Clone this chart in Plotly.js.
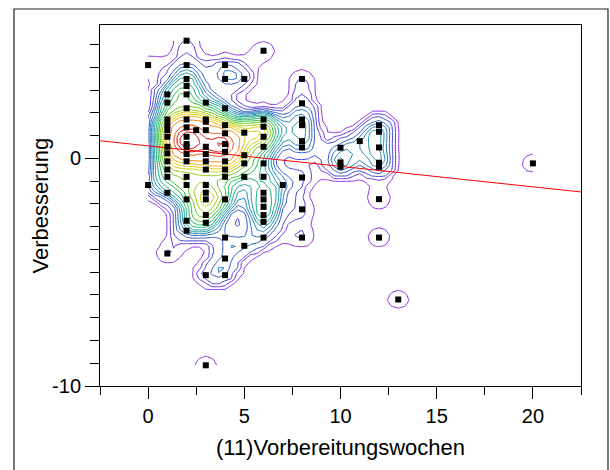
<!DOCTYPE html>
<html>
<head>
<meta charset="utf-8">
<script src="https://cdn.plot.ly/plotly-3.0.1.min.js"></script>
<style>
  html, body { margin: 0; padding: 0; background: #ffffff; }
  #chart { width: 610px; height: 470px; }
</style>
</head>
<body>
<div id="chart"></div>
<script>
// Observed (weeks, improvement) pairs and how many participants share each pair
const weeks = [
  0, 0,
  1, 1, 1, 1, 1, 1, 1, 1, 1, 1, 1, 1, 1,
  2, 2, 2, 2, 2, 2, 2, 2, 2, 2, 2, 2, 2, 2, 2, 2, 2, 2,
  2.5,
  3, 3, 3, 3, 3, 3, 3, 3, 3, 3, 3, 3, 3, 3, 3,
  4, 4, 4, 4, 4, 4, 4, 4, 4, 4, 4, 4, 4, 4,
  5, 5, 5, 5, 5, 5,
  6, 6, 6, 6, 6, 6, 6, 6, 6, 6, 6, 6, 6,
  7,
  8, 8, 8, 8, 8, 8, 8, 8, 8,
  10, 10, 10,
  11,
  12, 12, 12, 12, 12, 12, 12,
  13,
  20
];
const improvement = [
  4.10, -1.17,
  2.81, 2.45, 1.71, 1.46, 1.24, 0.95, 0.51, 0.22, -0.13, -0.49, -0.81, -1.51, -4.18,
  5.17, 4.10, 3.49, 3.18, 2.81, 2.20, 1.71, 1.36, 0.95, 0.63, 0.51, 0.19, -0.13, -0.81, -1.17, -1.80, -2.74, -3.18,
  1.24,
  2.45, 1.71, 1.61, 1.24, 0.51, 0.19, -0.13, -0.49, -1.17, -1.51, -1.80, -2.49, -2.83, -5.13, -9.09,
  4.10, 3.49, 2.20, 1.46, 1.10, 0.63, 0.29, -0.13, -0.49, -0.81, -1.80, -3.48, -4.40, -5.13,
  3.49, 1.13, 0.14, -0.22, -0.81, -3.84,
  4.73, 1.71, 1.39, 0.95, 0.51, -0.22, -0.81, -1.51, -1.80, -2.13, -2.49, -2.79, -3.48,
  -1.17,
  3.49, 2.42, 1.71, 1.46, 0.76, 0.48, -0.84, -2.24, -3.48,
  0.47, -0.18, -0.37,
  0.76,
  1.46, 1.17, 0.48, -0.19, -0.37, -1.79, -3.48,
  -6.20,
  -0.22
];
const participants = [
  1, 1,
  1, 1, 1, 1, 1, 1, 1, 1, 1, 1, 1, 1, 1,
  1, 1, 1, 1, 1, 1, 1, 2, 2, 2, 2, 1, 1, 1, 1, 1, 1, 1,
  1,
  1, 1, 1, 1, 2, 1, 1, 1, 1, 1, 2, 2, 1, 1, 1,
  1, 1, 1, 1, 2, 4, 2, 1, 1, 1, 2, 1, 1, 1,
  1, 2, 1, 1, 1, 1,
  1, 1, 2, 2, 1, 1, 1, 1, 1, 1, 1, 1, 1,
  1,
  1, 1, 1, 1, 1, 1, 1, 1, 1,
  1, 1, 1,
  1,
  1, 1, 1, 1, 1, 1, 1,
  1,
  1
];

// Linear fit coefficients (improvement = intercept + slope * weeks)
const fitIntercept = 0.55;
const fitSlope = -0.09;

// Axis ranges and tick labels
const xRange = [-2.5, 22.5];
const yRange = [-10, 5.86];
const yTickValues = [-10, 0];
const yTickLabels = ['-10', '0'];

// Weighted Gaussian kernel density on a grid spanning the data extent
const hx = 0.7, hy = 0.5;
const nx = 61, ny = 61;
const xLo = Math.min(...weeks), xHi = Math.max(...weeks);
const yLo = Math.min(...improvement), yHi = Math.max(...improvement);
const gridX = [], gridY = [];
for (let i = 0; i < nx; i++) gridX.push(xLo + (xHi - xLo) * i / (nx - 1));
for (let j = 0; j < ny; j++) gridY.push(yLo + (yHi - yLo) * j / (ny - 1));

function density(px, py) {
  let s = 0;
  for (let k = 0; k < weeks.length; k++) {
    const dx = (px - weeks[k]) / hx, dy = (py - improvement[k]) / hy;
    s += participants[k] * Math.exp(-0.5 * (dx * dx + dy * dy));
  }
  return s;
}

// Quantile contours: each level marks the share of participants whose
// own density lies below it (in steps of 5%)
const ranked = [];
weeks.forEach((w, k) => ranked.push({ d: density(w, improvement[k]), n: participants[k] }));
ranked.sort((a, b) => a.d - b.d);
const total = participants.reduce((a, b) => a + b, 0);
const floorDensity = 0.62;
const knots = [{ d: floorDensity, q: 0 }];
let acc = 0;
ranked.forEach(r => { acc += r.n; knots.push({ d: r.d, q: acc / total }); });

function quantileOf(v) {
  if (v <= knots[0].d) return -0.05 * (knots[0].d - v) / knots[0].d;
  for (let k = 1; k < knots.length; k++) {
    if (v <= knots[k].d) {
      const a = knots[k - 1], b = knots[k];
      const t = b.d > a.d ? (v - a.d) / (b.d - a.d) : 1;
      return a.q + t * (b.q - a.q);
    }
  }
  return 1;
}
const gridZ = gridY.map(gy => gridX.map(gx => quantileOf(density(gx, gy))));

const levelStart = 0.002;
const levelStep = 0.05;
const levelEnd = 0.952;

const rainbow = [
  [0.00, '#8a2be2'],
  [0.08, '#4b2fd8'],
  [0.16, '#2a50c8'],
  [0.26, '#1a78b0'],
  [0.36, '#10999f'],
  [0.46, '#10ad70'],
  [0.55, '#20b828'],
  [0.64, '#80c400'],
  [0.72, '#c8cc00'],
  [0.80, '#ecc800'],
  [0.88, '#f08a00'],
  [0.95, '#e84000'],
  [1.00, '#d80000']
];

const contourTrace = {
  type: 'contour',
  x: gridX,
  y: gridY,
  z: gridZ,
  autocontour: false,
  contours: { start: levelStart, end: levelEnd, size: levelStep, coloring: 'lines', showlines: true },
  line: { width: 1, smoothing: 0 },
  colorscale: rainbow,
  zmin: levelStart,
  zmax: levelEnd,
  showscale: false,
  hoverinfo: 'skip'
};

const pointTrace = {
  type: 'scatter',
  mode: 'markers',
  x: weeks,
  y: improvement,
  marker: { symbol: 'square', size: 6, color: '#000000', line: { width: 0 } },
  hoverinfo: 'x+y'
};

const fitTrace = {
  type: 'scatter',
  mode: 'lines',
  x: xRange,
  y: xRange.map(v => fitIntercept + fitSlope * v),
  line: { color: '#ff0000', width: 1 },
  hoverinfo: 'skip'
};

const fontFamily = '"Liberation Sans", Arial, sans-serif';

const layout = {
  width: 610,
  height: 470,
  margin: { l: 100, r: 29, t: 25, b: 84 },
  paper_bgcolor: '#ffffff',
  plot_bgcolor: '#ffffff',
  showlegend: false,
  font: { family: fontFamily, color: '#000000' },
  xaxis: {
    range: xRange,
    showgrid: false,
    zeroline: false,
    showline: true,
    linecolor: '#000000',
    linewidth: 1,
    mirror: true,
    ticks: 'outside',
    ticklen: 12,
    tickwidth: 1,
    tickcolor: '#000000',
    tick0: 0,
    dtick: 5,
    minor: { ticks: 'outside', dtick: 2.5, tick0: 0, ticklen: 8, tickcolor: '#000000', tickwidth: 1, showgrid: false },
    tickfont: { size: 20, family: fontFamily },
    title: { text: '(11)Vorbereitungswochen', font: { size: 22, family: fontFamily }, standoff: 13 }
  },
  yaxis: {
    range: yRange,
    showgrid: false,
    zeroline: false,
    showline: true,
    linecolor: '#000000',
    linewidth: 1,
    mirror: true,
    ticks: 'outside',
    ticklen: 14,
    tickwidth: 1,
    tickcolor: '#000000',
    tickmode: 'array',
    tickvals: yTickValues,
    ticktext: yTickLabels,
    minor: { ticks: 'outside', dtick: 1, tick0: 0, ticklen: 9, tickcolor: '#000000', tickwidth: 1, showgrid: false },
    tickfont: { size: 20, family: fontFamily }
  },
  annotations: [{
    text: 'Verbesserung',
    xref: 'paper', yref: 'paper',
    x: -0.1227, y: 0.5,
    xanchor: 'center', yanchor: 'middle',
    textangle: -90,
    showarrow: false,
    font: { size: 22, family: fontFamily, color: '#000000' }
  }],
  shapes: [{
    type: 'rect', xref: 'paper', yref: 'paper',
    x0: -0.1788, x1: 1.0561, y0: -0.27, y1: 1.0443,
    line: { color: '#222222', width: 1.2 }, fillcolor: 'rgba(0,0,0,0)', layer: 'below'
  }]
};

Plotly.newPlot('chart', [contourTrace, fitTrace, pointTrace], layout, { staticPlot: true, displayModeBar: false });
</script>
</body>
</html>
